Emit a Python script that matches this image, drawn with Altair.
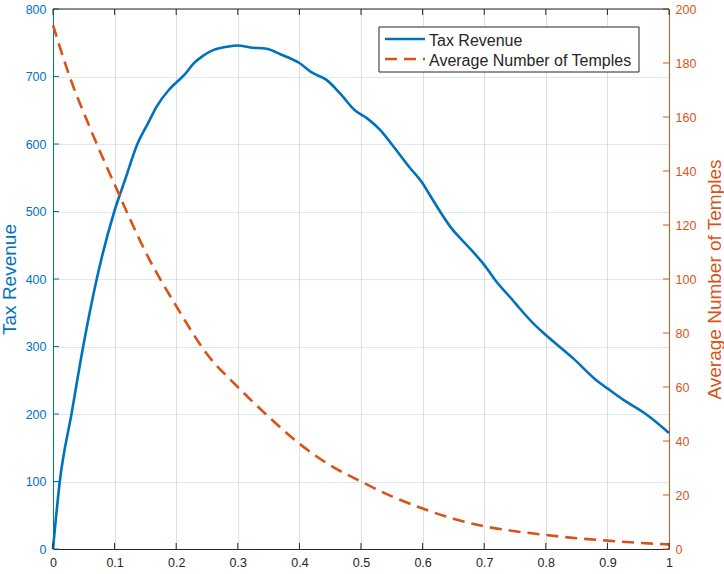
import altair as alt
import pandas as pd

# Tax revenue curve (left axis)
tax_x = [0.0, 0.011, 0.03, 0.049, 0.071, 0.0995, 0.117, 0.137, 0.155, 0.168, 0.188,
         0.2, 0.214, 0.228, 0.244, 0.26, 0.282, 0.3, 0.32, 0.347, 0.369, 0.4, 0.42,
         0.444, 0.466, 0.49, 0.51, 0.531, 0.553, 0.58, 0.6, 0.612, 0.647, 0.672, 0.7,
         0.72, 0.745, 0.757, 0.782, 0.8, 0.845, 0.882, 0.9, 0.926, 0.964, 1.0]
tax_y = [0, 100, 200, 300, 400, 500, 547, 600, 632, 655, 680,
         691, 703, 719, 731, 739, 744, 746, 743, 741, 733, 720, 706,
         695, 675, 650, 638, 621, 596, 564, 542, 524, 475, 450, 421,
         396, 370, 357, 332, 317, 282, 250, 238, 221, 199, 172]

# Average number of temples (right axis)
temple_x = [0.0, 0.027, 0.06, 0.1, 0.157, 0.2, 0.249, 0.3, 0.35, 0.4, 0.45, 0.5,
            0.55, 0.6, 0.65, 0.7, 0.75, 0.8, 0.85, 0.9, 0.95, 1.0]
temple_y = [194, 175, 156, 135, 107, 90, 72.5, 60, 49, 39, 31, 25,
            19.5, 15, 11.2, 8.4, 6.6, 5.2, 4.0, 3.1, 2.3, 1.7]

series_names = ["Tax Revenue", "Average Number of Temples"]

x_ticks = [0, 0.1, 0.2, 0.3, 0.4, 0.5, 0.6, 0.7, 0.8, 0.9, 1]
left_ticks = [0, 100, 200, 300, 400, 500, 600, 700, 800]
right_ticks = [0, 20, 40, 60, 80, 100, 120, 140, 160, 180, 200]

BLUE = "#0072BD"
ORANGE = "#D95319"
DARK = "#262626"
FONT = "Liberation Sans"
W, H = 616, 540
TICK = 6

x_scale = alt.Scale(domain=[0, 1], nice=False, zero=False)
left_scale = alt.Scale(domain=[0, 800], nice=False)
right_scale = alt.Scale(domain=[0, 200], nice=False)

tax_df = pd.DataFrame({"x": tax_x, "v": tax_y})
temple_df = pd.DataFrame({"x": temple_x, "v": temple_y})
xt_df = pd.DataFrame({"x": x_ticks})
lt_df = pd.DataFrame({"v": left_ticks})
rt_df = pd.DataFrame({"v": right_ticks})
one = alt.Data(values=[{"k": 0}])

x_axis = alt.Axis(values=x_ticks, format="~g", title=None, grid=True,
                  gridColor=DARK, gridOpacity=0.15, ticks=False, tickSize=0,
                  labelPadding=7, labelColor=DARK, labelFontSize=12.5,
                  labelFont=FONT, domainColor=DARK, domainWidth=1,
                  labelFlush=False)

left_axis = alt.Axis(values=left_ticks, format="d", title="Tax Revenue",
                     grid=True, gridColor=BLUE, gridOpacity=0.15,
                     ticks=False, tickSize=0, labelPadding=7,
                     labelColor=BLUE, labelFontSize=12.5, labelFont=FONT,
                     domainColor=BLUE, domainWidth=1,
                     titleColor=BLUE, titleFontSize=19, titleFont=FONT,
                     titleFontWeight="normal", titleAngle=270,
                     titleX=-44, titleY=H / 2, titleAlign="center",
                     titleBaseline="middle", labelFlush=False)

right_axis = alt.Axis(orient="right", values=right_ticks, format="d",
                      title="Average Number of Temples", grid=False,
                      ticks=False, tickSize=0, labelPadding=6,
                      labelColor=ORANGE, labelFontSize=12.5, labelFont=FONT,
                      domainColor=ORANGE, domainWidth=1,
                      titleColor=ORANGE, titleFontSize=19, titleFont=FONT,
                      titleFontWeight="normal", titleAngle=270,
                      titleX=45, titleY=H / 2, titleAlign="center",
                      titleBaseline="middle", labelFlush=False)

X = alt.X("x:Q", scale=x_scale, axis=x_axis)
Y_LEFT = alt.Y("v:Q", scale=left_scale, axis=left_axis)
Y_RIGHT = alt.Y("v:Q", scale=right_scale, axis=right_axis)

tax_line = alt.Chart(tax_df).mark_line(
    color=BLUE, strokeWidth=2.6, interpolate="monotone"
).encode(x=X, y=Y_LEFT)

left_tick_marks = alt.Chart(lt_df).mark_rule(color=BLUE, strokeWidth=1).encode(
    y=Y_LEFT, x=alt.value(0), x2=alt.value(TICK),
)

left_group = alt.layer(tax_line, left_tick_marks)

temple_line = alt.Chart(temple_df).mark_line(
    color=ORANGE, strokeWidth=2.6, strokeDash=[12, 7], interpolate="monotone"
).encode(x=X, y=Y_RIGHT)

right_tick_marks = alt.Chart(rt_df).mark_rule(color=ORANGE, strokeWidth=1).encode(
    y=Y_RIGHT, x=alt.value(W - TICK), x2=alt.value(W),
)

right_group = alt.layer(temple_line, right_tick_marks)

# Box frame on top and inward ticks along top and bottom
top_frame = alt.Chart(one).mark_rule(color=DARK, strokeWidth=1).encode(
    x=alt.value(0), x2=alt.value(W), y=alt.value(0)
)
top_ticks = alt.Chart(xt_df).mark_rule(color=DARK, strokeWidth=1).encode(
    x=X, y=alt.value(0), y2=alt.value(TICK)
)
bottom_ticks = alt.Chart(xt_df).mark_rule(color=DARK, strokeWidth=1).encode(
    x=X, y=alt.value(H - TICK), y2=alt.value(H)
)

# Legend box
LX0, LX1, LY0, LY1 = 326, 586, 18, 63
legend_box = alt.Chart(one).mark_rect(fill="white", stroke=DARK, strokeWidth=1).encode(
    x=alt.value(LX0), x2=alt.value(LX1), y=alt.value(LY0), y2=alt.value(LY1)
)
legend_blue = alt.Chart(one).mark_rule(color=BLUE, strokeWidth=2.6).encode(
    x=alt.value(332), x2=alt.value(372), y=alt.value(30)
)
legend_orange = alt.Chart(one).mark_rule(
    color=ORANGE, strokeWidth=2.6, strokeDash=[12, 7]
).encode(x=alt.value(332), x2=alt.value(372), y=alt.value(50))
legend_t1 = alt.Chart(one).mark_text(
    align="left", baseline="alphabetic", font=FONT, fontSize=16, color=DARK
).encode(x=alt.value(376), y=alt.value(37), text=alt.value(series_names[0]))
legend_t2 = alt.Chart(one).mark_text(
    align="left", baseline="alphabetic", font=FONT, fontSize=16, color=DARK
).encode(x=alt.value(376), y=alt.value(57), text=alt.value(series_names[1]))

decor = alt.layer(top_frame, top_ticks, bottom_ticks, legend_box,
                  legend_blue, legend_orange, legend_t1, legend_t2)

chart = alt.layer(left_group, right_group, decor).resolve_scale(
    y="independent"
).properties(
    width=W, height=H,
    autosize=alt.AutoSizeParams(type="none"),
    padding={"left": 53, "top": 9, "right": 55, "bottom": 25},
    background="white",
).configure_view(stroke="transparent")

chart.save("out.html", embed_options={"renderer": "svg", "actions": False})
